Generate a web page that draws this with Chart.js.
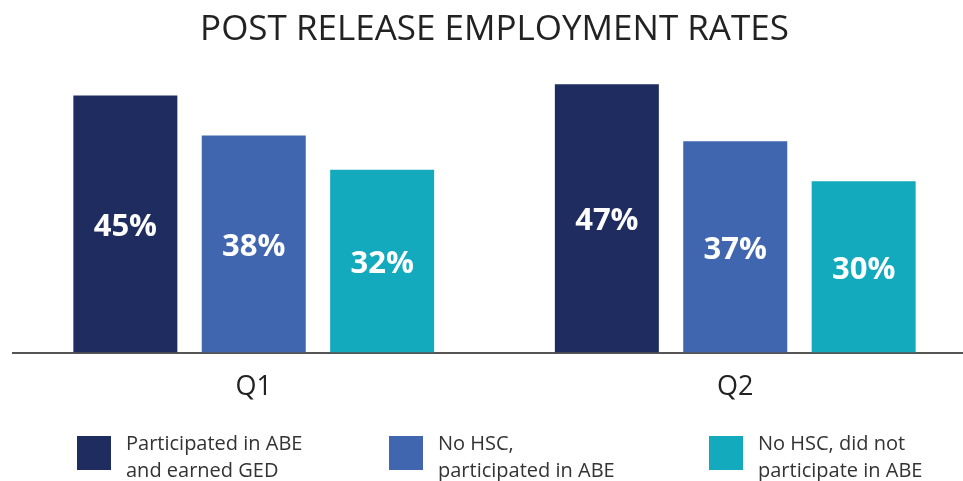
<!DOCTYPE html>
<html>
<head>
<meta charset="utf-8">
<script src="https://cdn.jsdelivr.net/npm/chart.js@4"></script>
<style>
  html, body { margin: 0; background: #fff; overflow: hidden; }
  canvas { display: block; }
</style>
</head>
<body>
<canvas id="rateChart" width="976" height="481"></canvas>
<script>
const quarters = ['Q1', 'Q2'];
const abeWithGed = [45, 47];
const noHscWithAbe = [38, 37];
const noHscNoAbe = [32, 30];
const seriesNames = [
  ['Participated in ABE', 'and earned GED'],
  ['No HSC,', 'participated in ABE'],
  ['No HSC, did not', 'participate in ABE']
];

// white percentage text in the middle of each bar
const barValueLabels = {
  id: 'barValueLabels',
  afterDatasetsDraw(chart) {
    const ctx = chart.ctx;
    ctx.save();
    ctx.fillStyle = '#ffffff';
    ctx.font = 'bold 31px "Open Sans"';
    ctx.textAlign = 'center';
    ctx.textBaseline = 'middle';
    chart.data.datasets.forEach((ds, i) => {
      chart.getDatasetMeta(i).data.forEach((bar, j) => {
        const mid = (bar.y + bar.base) / 2;
        ctx.fillText(ds.data[j] + '%', bar.x, mid + 3);
      });
    });
    ctx.restore();
  }
};

// legend below the axis, with two-line labels
const lineLegend = {
  id: 'lineLegend',
  afterDraw(chart, args, opts) {
    const ctx = chart.ctx;
    ctx.save();
    ctx.font = '20px "Open Sans"';
    ctx.textBaseline = 'alphabetic';
    chart.data.datasets.forEach((ds, i) => {
      const x = opts.starts[i];
      ctx.fillStyle = ds.backgroundColor;
      ctx.fillRect(x, opts.boxTop, 34, 34);
      ctx.fillStyle = '#333333';
      ds.label.forEach((line, k) => {
        ctx.fillText(line, x + 49, opts.firstBaseline + k * 27);
      });
    });
    ctx.restore();
  }
};

const ctx = document.getElementById('rateChart').getContext('2d');
const rateChart = new Chart(ctx, {
  type: 'bar',
  data: {
    labels: quarters,
    datasets: [
      { label: seriesNames[0], data: abeWithGed, backgroundColor: '#1f2c5f' },
      { label: seriesNames[1], data: noHscWithAbe, backgroundColor: '#4066b0' },
      { label: seriesNames[2], data: noHscNoAbe, backgroundColor: '#14aabe' }
    ]
  },
  options: {
    responsive: false,
    animation: false,
    layout: {
      padding: { left: 13, right: 0, top: 0, bottom: 66 }
    },
    datasets: {
      bar: {
        categoryPercentage: 0.8,
        barPercentage: 0.81
      }
    },
    scales: {
      x: {
        grid: { display: false },
        border: { display: true, color: '#555555', width: 2 },
        ticks: {
          color: '#222222',
          padding: 11,
          font: { family: 'Open Sans', size: 27 }
        }
      },
      y: {
        display: false,
        min: 0,
        max: 50
      }
    },
    plugins: {
      legend: { display: false },
      tooltip: { enabled: false },
      title: {
        display: true,
        text: 'POST RELEASE EMPLOYMENT RATES',
        color: '#222222',
        font: { family: 'Open Sans', size: 35, weight: 'normal' },
        padding: { top: 9, bottom: 16 }
      },
      lineLegend: {
        starts: [77, 389, 709],
        boxTop: 436,
        firstBaseline: 450
      }
    }
  },
  plugins: [barValueLabels, lineLegend]
});
</script>
</body>
</html>
